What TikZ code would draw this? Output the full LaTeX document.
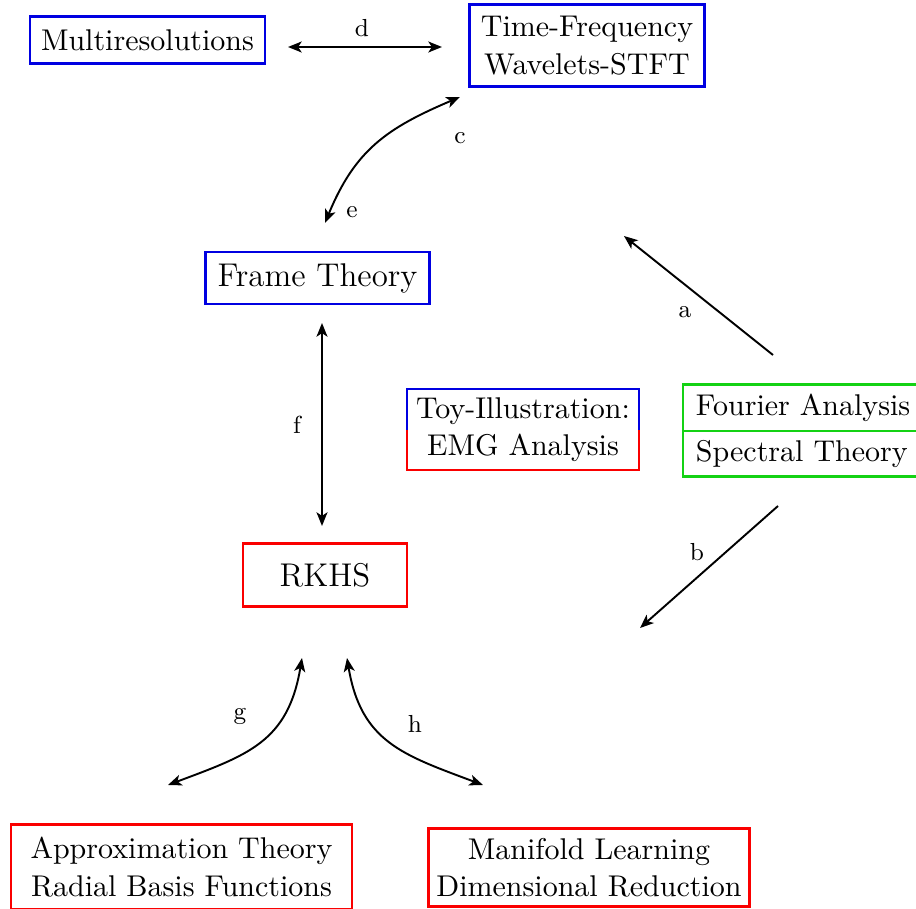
\documentclass[tikz,border=0pt]{standalone}
\usepackage{amsmath}
\usepackage[dvipsnames]{xcolor}
\usepackage{tikz}
\usetikzlibrary{arrows.meta}
\usetikzlibrary{shapes.multipart}

\definecolor{boxblue}{RGB}{0,0,225}
\definecolor{boxred}{RGB}{250,0,0}
\definecolor{boxgreen}{RGB}{20,210,20}

\begin{document}
\begin{tikzpicture}[
		x=0.365pt, y=-0.365pt,
		box/.style = {
			shape=rectangle,
			draw,
			line width=0.8pt,
			align=center,
			inner sep=0pt,
			font=\fontsize{10.95}{13.6}\selectfont
		},
		bluebox/.style = {box, draw=boxblue},
		redbox/.style = {box, draw=boxred},
		lbl/.style = {font=\fontsize{9}{11}\selectfont},
		link/.style = {
			draw,
			line width=0.7pt,
			>={Stealth[length=5pt, width=4pt, inset=1.3pt]}
		}
		]
		\useasboundingbox (0,0) rectangle (916,909);

		\node[bluebox, minimum width=85.5pt, minimum height=17.2pt] (multi) at (147.5,40) {Multiresolutions};
		\node[bluebox, minimum width=85.8pt, minimum height=30pt] (timefreq) at (587,45.5) {Time-Frequency\\Wavelets-STFT};
		\node[bluebox, minimum width=81.8pt, minimum height=18.7pt, font=\large] (frame) at (317.5,278) {Frame Theory};
		\node[box, draw=none, minimum width=83.6pt, minimum height=28.5pt] (toy) at (523,429.5) {Toy-Illustration:\\EMG Analysis};
		\draw[boxblue, line width=0.8pt] (toy.west) |- (toy.north east) -- (toy.east);
		\draw[boxred, line width=0.8pt] (toy.west) |- (toy.south east) -- (toy.east);
		\node[draw=boxgreen, line width=0.8pt, rectangle split, rectangle split parts=2,
			rectangle split part align={left}, inner xsep=4.7pt, inner ysep=3pt,
			font=\fontsize{10.95}{13.6}\selectfont, anchor=west] (fourier) at (682,430.5)
			{Fourier Analysis \nodepart{two} Spectral Theory};
		\node[redbox, minimum width=59.6pt, minimum height=23pt, font=\large] (rkhs) at (325,575) {RKHS};
		\node[redbox, minimum width=124.2pt, minimum height=31pt] (approx) at (181.5,867) {Approximation Theory\\Radial Basis Functions};
		\node[redbox, minimum width=117.2pt, minimum height=28.5pt] (manifold) at (589,867.5) {Manifold Learning\\Dimensional Reduction};

		\coordinate (d-left) at (288,47);
		\coordinate (d-right) at (442,47);
		\coordinate (c-top) at (460,97);
		\coordinate (e-bottom) at (325,223);
		\coordinate (a-tail) at (773,355);
		\coordinate (a-tip) at (624,236);
		\coordinate (b-tail) at (778,506);
		\coordinate (b-tip) at (640,628);
		\coordinate (f-top) at (322,323);
		\coordinate (f-bottom) at (322,526);
		\coordinate (g-top) at (302,658);
		\coordinate (g-bottom) at (168,785);
		\coordinate (h-top) at (347,658);
		\coordinate (h-bottom) at (483,785);

		\draw[link, <->] (d-left) -- (d-right);
		\draw[link, <->] (c-top) .. controls +(-73,31) and +(30,-73) .. (e-bottom);
		\draw[link, ->] (a-tail) -- (a-tip);
		\draw[link, ->] (b-tail) -- (b-tip);
		\draw[link, <->] (f-top) -- (f-bottom);
		\draw[link, <->] (g-top) .. controls +(-14,84) and +(80,-30) .. (g-bottom);
		\draw[link, <->] (h-top) .. controls +(14,84) and +(-80,-30) .. (h-bottom);

		\node[lbl] (lbl-d) at (362,28) {d};
		\node[lbl] (lbl-c) at (460,138) {c};
		\node[lbl] (lbl-e) at (352,212) {e};
		\node[lbl] (lbl-a) at (685,312) {a};
		\node[lbl] (lbl-b) at (697,552) {b};
		\node[lbl] (lbl-f) at (297,425) {f};
		\node[lbl] (lbl-g) at (240,716) {g};
		\node[lbl] (lbl-h) at (415,724) {h};
	\end{tikzpicture}
\end{document}
